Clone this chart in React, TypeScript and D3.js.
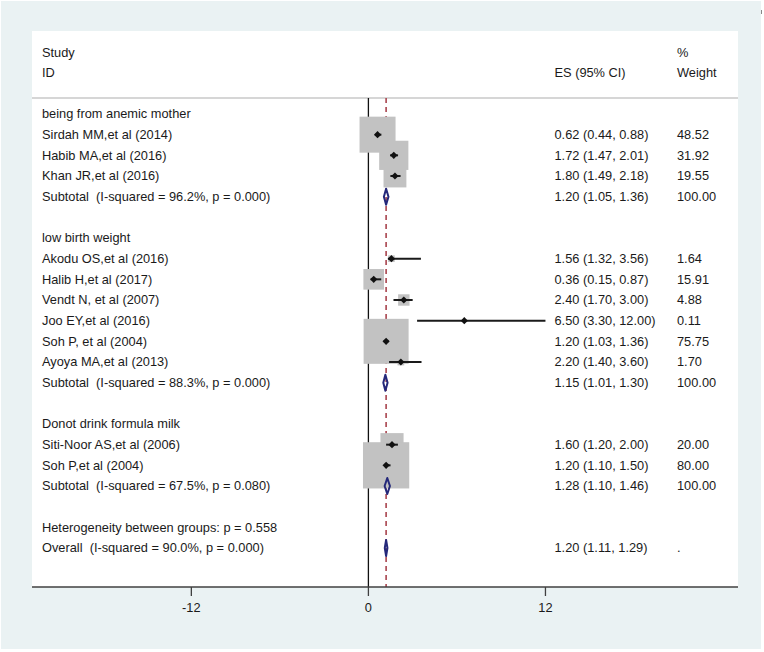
import React from "react";
import * as d3 from "d3";

const rowLabels = [
  "being from anemic mother",
  "Sirdah MM,et al (2014)",
  "Habib MA,et al (2016)",
  "Khan JR,et al (2016)",
  "Subtotal  (I-squared = 96.2%, p = 0.000)",
  "",
  "low birth weight",
  "Akodu OS,et al (2016)",
  "Halib H,et al (2017)",
  "Vendt N, et al (2007)",
  "Joo EY,et al (2016)",
  "Soh P, et al (2004)",
  "Ayoya MA,et al (2013)",
  "Subtotal  (I-squared = 88.3%, p = 0.000)",
  "",
  "Donot drink formula milk",
  "Siti-Noor AS,et al (2006)",
  "Soh P,et al (2004)",
  "Subtotal  (I-squared = 67.5%, p = 0.080)",
  "",
  "Heterogeneity between groups: p = 0.558",
  "Overall  (I-squared = 90.0%, p = 0.000)",
];

const rowKinds = [
  "group", "study", "study", "study", "sub", "blank",
  "group", "study", "study", "study", "study", "study", "study", "sub", "blank",
  "group", "study", "study", "sub", "blank",
  "text", "sub",
];

const esValues = [null, 0.62, 1.72, 1.8, 1.2, null, null, 1.56, 0.36, 2.4, 6.5, 1.2, 2.2, 1.15, null, null, 1.6, 1.2, 1.28, null, null, 1.2];
const ciLower = [null, 0.44, 1.47, 1.49, 1.05, null, null, 1.32, 0.15, 1.7, 3.3, 1.03, 1.4, 1.01, null, null, 1.2, 1.1, 1.1, null, null, 1.11];
const ciUpper = [null, 0.88, 2.01, 2.18, 1.36, null, null, 3.56, 0.87, 3.0, 12.0, 1.36, 3.6, 1.3, null, null, 2.0, 1.5, 1.46, null, null, 1.29];
const weightLabels = ["", "48.52", "31.92", "19.55", "100.00", "", "", "1.64", "15.91", "4.88", "0.11", "75.75", "1.70", "100.00", "", "", "20.00", "80.00", "100.00", "", "", "."];
const weightValues = [0, 48.52, 31.92, 19.55, 0, 0, 0, 1.64, 15.91, 4.88, 0.11, 75.75, 1.7, 0, 0, 0, 20.0, 80.0, 0, 0, 0, 0];

const xTicks = [-12, 0, 12];
const overallES = 1.2;

const fmt = d3.format(".2f");

export default function App() {
  const W = 764;
  const H = 652;
  const panel = { x0: 32, x1: 738, y0: 31, y1: 587 };
  const x = d3.scaleLinear().domain([-22.8, 25.05]).range([panel.x0, panel.x1]);
  const y = d3
    .scalePoint<number>()
    .domain(rowLabels.map((_, i) => i))
    .range([114, 548]);
  const boxSide = d3.scaleSqrt().domain([0, 100]).range([0, 51.7]);

  const font = "'Liberation Sans', Arial, Helvetica, sans-serif";
  const fs = 12.8;
  const textColor = "#1a1a1a";
  const lineTop = 98;

  const esText = (i: number) =>
    esValues[i] == null ? "" : `${fmt(esValues[i] as number)} (${fmt(ciLower[i] as number)}, ${fmt(ciUpper[i] as number)})`;

  return (
    <svg
      width={W}
      height={H}
      style={{ position: "absolute", left: 0, top: 0, display: "block" }}
      fontFamily={font}
    >
      <rect x={0} y={0} width={W} height={H} fill="#ffffff" />
      <rect x={1} y={1} width={760} height={648} fill="#eaf2f3" />
      <rect
        x={panel.x0}
        y={panel.y0}
        width={panel.x1 - panel.x0}
        height={panel.y1 - panel.y0}
        fill="#ffffff"
      />
      <line x1={761.5} x2={761.5} y1={10} y2={14} stroke="#888" strokeWidth={1} />

      {/* header */}
      <g fontSize={fs} fill={textColor}>
        <text x={42} y={53} dy="0.35em">Study</text>
        <text x={42} y={73} dy="0.35em">ID</text>
        <text x={554.5} y={73} dy="0.35em">ES (95% CI)</text>
        <text x={677} y={53} dy="0.35em">%</text>
        <text x={677} y={73} dy="0.35em">Weight</text>
      </g>
      <line x1={panel.x0} x2={panel.x1} y1={lineTop} y2={lineTop} stroke="#c8c8c8" strokeWidth={1.5} />

      {/* null line */}
      <line x1={x(0)} x2={x(0)} y1={lineTop} y2={panel.y1} stroke="#111" strokeWidth={1.3} />
      {/* overall effect dashed line */}
      <line
        x1={x(overallES)}
        x2={x(overallES)}
        y1={lineTop}
        y2={panel.y1}
        stroke="#a9444e"
        strokeWidth={1.6}
        strokeDasharray="5,4"
      />

      {/* boxes */}
      {rowLabels.map((_, i) => {
        if (rowKinds[i] !== "study") return null;
        const s = boxSide(weightValues[i]);
        const cx = x(esValues[i] as number);
        const cy = y(i) as number;
        return <rect key={"b" + i} x={cx - s / 2} y={cy - s / 2} width={s} height={s} fill="#c2c2c2" />;
      })}

      {/* CI lines and points */}
      {rowLabels.map((_, i) => {
        if (rowKinds[i] !== "study") return null;
        const cx = x(esValues[i] as number);
        const cy = y(i) as number;
        const d = 3.6;
        return (
          <g key={"c" + i}>
            <line x1={x(ciLower[i] as number)} x2={x(ciUpper[i] as number)} y1={cy} y2={cy} stroke="#1a1a1a" strokeWidth={2} />
            <path d={`M${cx - d},${cy}L${cx},${cy - d}L${cx + d},${cy}L${cx},${cy + d}Z`} fill="#111" />
          </g>
        );
      })}

      {/* diamonds */}
      {rowLabels.map((_, i) => {
        if (rowKinds[i] !== "sub") return null;
        const cy = y(i) as number;
        const h = 8;
        const l = x(ciLower[i] as number);
        const r = x(ciUpper[i] as number);
        const m = x(esValues[i] as number);
        return (
          <path
            key={"d" + i}
            d={`M${l},${cy}L${m},${cy - h}L${r},${cy}L${m},${cy + h}Z`}
            fill="none"
            stroke="#24287a"
            strokeWidth={2}
            strokeLinejoin="round"
          />
        );
      })}

      {/* row texts */}
      <g fontSize={fs} fill={textColor}>
        {rowLabels.map((lab, i) => (
          <g key={"t" + i}>
            <text x={42} y={y(i) as number} dy="0.35em" style={{ whiteSpace: "pre" }} xmlSpace="preserve">
              {lab}
            </text>
            <text x={554.5} y={y(i) as number} dy="0.35em">{esText(i)}</text>
            <text x={677} y={y(i) as number} dy="0.35em">{weightLabels[i]}</text>
          </g>
        ))}
      </g>

      {/* x axis */}
      <line x1={panel.x0} x2={panel.x1} y1={panel.y1} y2={panel.y1} stroke="#404040" strokeWidth={1.6} />
      {xTicks.map((t) => (
        <g key={"x" + t}>
          <line x1={x(t)} x2={x(t)} y1={panel.y1} y2={panel.y1 + 9} stroke="#404040" strokeWidth={1.3} />
          <text x={x(t)} y={608} dy="0.35em" textAnchor="middle" fontSize={fs} fill={textColor}>
            {t}
          </text>
        </g>
      ))}
    </svg>
  );
}
